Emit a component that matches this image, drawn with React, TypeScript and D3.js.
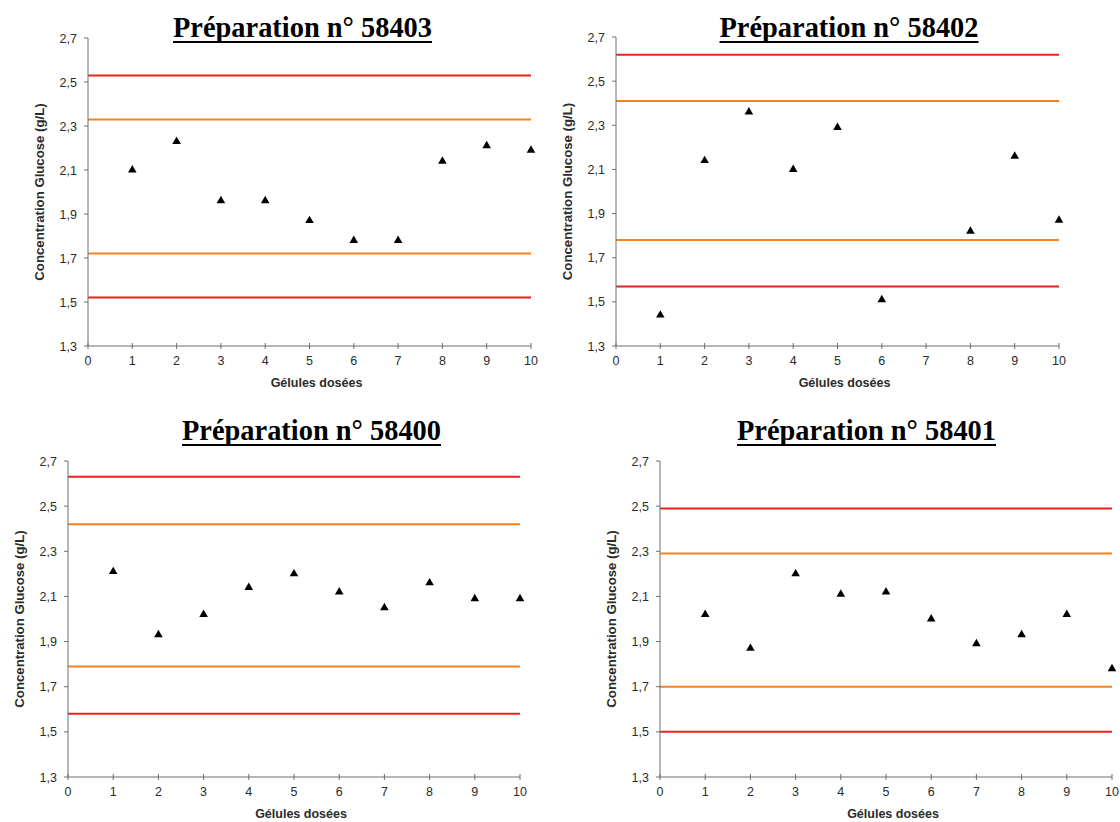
import React, { useLayoutEffect, useRef, useState } from "react";
import * as d3 from "d3";

// Capsule index on the x axis
const capsules = [1, 2, 3, 4, 5, 6, 7, 8, 9, 10];
const xTicks = [0, 1, 2, 3, 4, 5, 6, 7, 8, 9, 10];
const yTicks = [1.3, 1.5, 1.7, 1.9, 2.1, 2.3, 2.5, 2.7];

// Measured glucose concentration (g/L) per capsule, one array per batch
const prep58403 = [2.10, 2.23, 1.96, 1.96, 1.87, 1.78, 1.78, 2.14, 2.21, 2.19];
const prep58402 = [1.44, 2.14, 2.36, 2.10, 2.29, 1.51, null, 1.82, 2.16, 1.87];
const prep58400 = [2.21, 1.93, 2.02, 2.14, 2.20, 2.12, 2.05, 2.16, 2.09, 2.09];
const prep58401 = [2.02, 1.87, 2.20, 2.11, 2.12, 2.00, 1.89, 1.93, 2.02, 1.78];

// Control limits: [lower red, lower orange, upper orange, upper red]
const limits58403 = [1.52, 1.72, 2.33, 2.53];
const limits58402 = [1.57, 1.78, 2.41, 2.62];
const limits58400 = [1.58, 1.79, 2.42, 2.63];
const limits58401 = [1.50, 1.70, 2.29, 2.49];

const titles = ["Préparation n° 58403", "Préparation n° 58402", "Préparation n° 58400", "Préparation n° 58401"];

const RED = "#e8231f";
const ORANGE = "#f5821f";
const AXIS = "#6f6f6f";
const LABEL = "#2b2b2b";
const SANS = "'Liberation Sans', Arial, sans-serif";
const SERIF = "'Liberation Serif', 'Times New Roman', serif";

type PanelProps = {
  title: string;
  values: (number | null)[];
  limits: number[];
  left: number;
  right: number;
  top: number;
  bottom: number;
  titleX: number;
  titleY: number;
};

function Title({ x, y, text }: { x: number; y: number; text: string }) {
  const ref = useRef<SVGTextElement>(null);
  const [w, setW] = useState(0);
  useLayoutEffect(() => {
    if (ref.current) setW(ref.current.getComputedTextLength());
  }, [text]);
  return (
    <g>
      <text
        ref={ref}
        x={x}
        y={y}
        textAnchor="middle"
        fontFamily={SERIF}
        fontWeight="bold"
        fontSize={28.4}
        fill="#000"
      >
        {text}
      </text>
      {w > 0 && <rect x={x - w / 2} y={y + 4} width={w} height={2} fill="#000" />}
    </g>
  );
}

function Panel({ title, values, limits, left, right, top, bottom, titleX, titleY }: PanelProps) {
  const x = d3.scaleLinear().domain([0, 10]).range([left, right]);
  const y = d3.scaleLinear().domain([1.3, 2.7]).range([bottom, top]);
  const tri = d3.symbol().type(d3.symbolTriangle).size(32)();
  const fmt = (v: number) => v.toFixed(1).replace(".", ",");
  const limitColors = [RED, ORANGE, ORANGE, RED];
  const midX = (left + right) / 2;
  const midY = (top + bottom) / 2;

  return (
    <g>
      <Title x={titleX} y={titleY} text={title} />

      {/* control limit lines */}
      {limits.map((v, i) => (
        <line
          key={"lim" + i}
          x1={x(0)}
          x2={x(10)}
          y1={y(v)}
          y2={y(v)}
          stroke={limitColors[i]}
          strokeWidth={2}
        />
      ))}

      {/* y axis */}
      <line x1={left} x2={left} y1={top} y2={bottom} stroke={AXIS} strokeWidth={1} />
      {yTicks.map((t) => (
        <g key={"y" + t}>
          <line x1={left - 4} x2={left} y1={y(t)} y2={y(t)} stroke={AXIS} />
          <text
            x={left - 11}
            y={y(t) + 4.5}
            textAnchor="end"
            fontFamily={SANS}
            fontSize={12.5}
            fill={LABEL}
          >
            {fmt(t)}
          </text>
        </g>
      ))}

      {/* x axis */}
      <line x1={left} x2={right} y1={bottom} y2={bottom} stroke={AXIS} strokeWidth={1} />
      {xTicks.map((t) => (
        <g key={"x" + t}>
          <line x1={x(t)} x2={x(t)} y1={bottom - 3} y2={bottom + 3} stroke={AXIS} />
          <text
            x={x(t)}
            y={bottom + 19}
            textAnchor="middle"
            fontFamily={SANS}
            fontSize={12.5}
            fill={LABEL}
          >
            {t}
          </text>
        </g>
      ))}

      {/* axis titles */}
      <text
        x={midX + 7}
        y={bottom + 41}
        textAnchor="middle"
        fontFamily={SANS}
        fontWeight="bold"
        fontSize={12.5}
        fill={LABEL}
      >
        Gélules dosées
      </text>
      <text
        transform={`translate(${left - 44},${midY}) rotate(-90)`}
        textAnchor="middle"
        fontFamily={SANS}
        fontWeight="bold"
        fontSize={13.2}
        fill={LABEL}
      >
        Concentration Glucose (g/L)
      </text>

      {/* measured points */}
      {values.map((v, i) =>
        v == null ? null : (
          <path
            key={"p" + i}
            d={tri as string}
            transform={`translate(${x(capsules[i])},${y(v)})`}
            fill="#000"
          />
        )
      )}
    </g>
  );
}

const panelData = [
  { values: prep58403, limits: limits58403 },
  { values: prep58402, limits: limits58402 },
  { values: prep58400, limits: limits58400 },
  { values: prep58401, limits: limits58401 },
];

const frames = [
  { left: 88, right: 531, top: 38, bottom: 346, titleX: 302.5, titleY: 37 },
  { left: 616, right: 1059, top: 37, bottom: 346, titleX: 849, titleY: 37 },
  { left: 68, right: 520, top: 461, bottom: 777, titleX: 311.5, titleY: 440 },
  { left: 660, right: 1112, top: 461, bottom: 777, titleX: 866.5, titleY: 440 },
];

export default function App() {
  return (
    <svg
      width={1120}
      height={822}
      style={{ position: "absolute", left: 0, top: 0, background: "#fff" }}
    >
      <rect width={1120} height={822} fill="#fff" />
      {frames.map((f, i) => (
        <Panel
          key={i}
          title={titles[i]}
          values={panelData[i].values}
          limits={panelData[i].limits}
          {...f}
        />
      ))}
    </svg>
  );
}
